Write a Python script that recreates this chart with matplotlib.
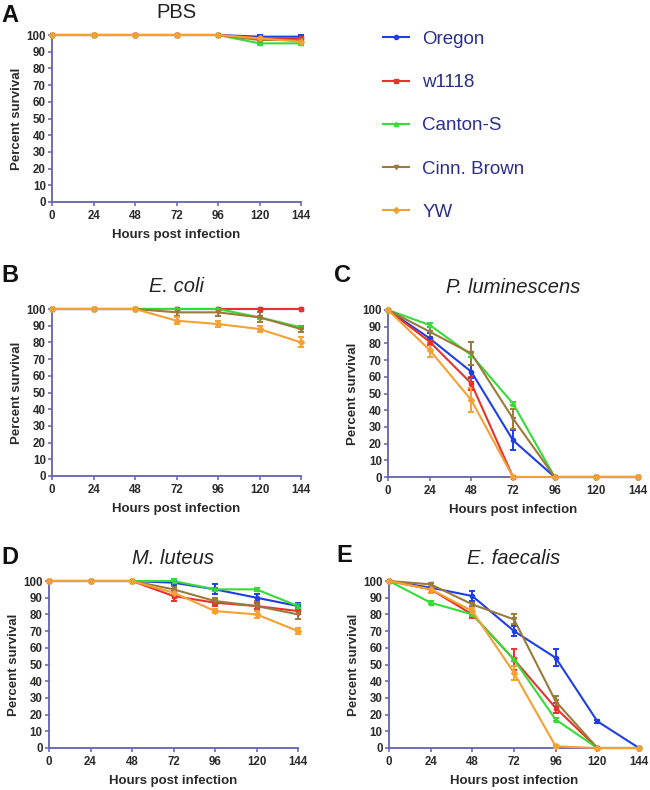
import matplotlib
matplotlib.use('Agg')
import matplotlib.pyplot as plt
from matplotlib.lines import Line2D

plt.rcParams['font.family'] = ['Liberation Sans', 'DejaVu Sans']

hours = [0, 24, 48, 72, 96, 120, 144]
strains = ['Oregon', 'w1118', 'Canton-S', 'Cinn. Brown', 'YW']
colors = ['#1f3fe6', '#e8322c', '#35dc35', '#9b7a3a', '#f5a032']
markers = ['o', 's', '^', 'v', 'D']

# survival (%) per strain, one list per time point
pbs = [
    [100, 100, 100, 100, 100, 99, 99],
    [100, 100, 100, 100, 100, 98, 98],
    [100, 100, 100, 100, 100, 95, 95],
    [100, 100, 100, 100, 100, 97, 97],
    [100, 100, 100, 100, 100, 98, 96],
]
pbs_err = [
    [0, 0, 0, 0, 0, 1, 1],
    [0, 0, 0, 0, 0, 1, 1],
    [0, 0, 0, 0, 0, 1, 1],
    [0, 0, 0, 0, 0, 2, 2],
    [0, 0, 0, 0, 0, 1, 1],
]
ecoli = [
    [100, 100, 100, 100, 100, 100, 100],
    [100, 100, 100, 100, 100, 100, 100],
    [100, 100, 100, 100, 100, 95, 89],
    [100, 100, 100, 98, 98, 95, 88],
    [100, 100, 100, 93, 91, 88, 80],
]
ecoli_err = [
    [0, 0, 0, 0, 0, 0, 0],
    [0, 0, 0, 0, 0, 0, 0],
    [0, 0, 0, 0, 0, 1, 1],
    [0, 0, 0, 2, 2, 3, 2],
    [0, 0, 0, 2, 2, 2, 3],
]
plum = [
    [100, 83, 63, 22, 0, 0, 0],
    [100, 81, 56, 0, 0, 0, 0],
    [100, 91, 73, 44, 0, 0, 0],
    [100, 87, 74, 35, 0, 0, 0],
    [100, 76, 46, 0, 0, 0, 0],
]
plum_err = [
    [0, 3, 4, 6, 0, 0, 0],
    [0, 2, 4, 0, 0, 0, 0],
    [0, 1, 1, 1, 0, 0, 0],
    [0, 3, 7, 6, 0, 0, 0],
    [0, 4, 7, 0, 0, 0, 0],
]
mlut = [
    [100, 100, 100, 99, 95, 90, 85],
    [100, 100, 100, 91, 87, 85, 82],
    [100, 100, 100, 100, 95, 95, 85],
    [100, 100, 100, 95, 88, 85, 80],
    [100, 100, 100, 93, 82, 80, 70],
]
mlut_err = [
    [0, 0, 0, 1, 3, 2, 2],
    [0, 0, 0, 3, 2, 2, 2],
    [0, 0, 0, 1, 1, 1, 1],
    [0, 0, 0, 2, 2, 3, 3],
    [0, 0, 0, 2, 1, 2, 2],
]
efae = [
    [100, 96, 91, 70, 54, 16, 0],
    [100, 95, 80, 53, 24, 0, 0],
    [100, 87, 80, 53, 17, 0, 0],
    [100, 98, 86, 77, 28, 0, 0],
    [100, 95, 82, 45, 1, 0, 0],
]
efae_err = [
    [0, 1, 3, 3, 5, 1, 0],
    [0, 2, 2, 6, 3, 0, 0],
    [0, 1, 1, 1, 1, 0, 0],
    [0, 1, 1, 3, 3, 0, 0],
    [0, 2, 2, 4, 1, 0, 0],
]

AXIS = '#6262b4'
TEXT = '#2a2a2a'
W, H = 650, 790


def px_axes(x0, y0, x1, y1):
    return fig.add_axes([x0 / W, 1 - y1 / H, (x1 - x0) / W, (y1 - y0) / H])


def panel(ax, data, err, title, letter, lx, ly, italic=True):
    for vals, e, c, m in zip(data, err, colors, markers):
        ax.errorbar(hours, vals, yerr=e, color=c, marker=m, markersize=3,
                    linewidth=1.5, elinewidth=1.4, capsize=2.5, capthick=1.4,
                    clip_on=False, zorder=3)
    ax.set_xlim(0, 144)
    ax.set_ylim(0, 100)
    ax.set_xticks(hours)
    ax.set_yticks(range(0, 101, 10))
    for side in ('top', 'right'):
        ax.spines[side].set_visible(False)
    for side in ('left', 'bottom'):
        ax.spines[side].set_color(AXIS)
        ax.spines[side].set_linewidth(1.3)
    ax.tick_params(colors=AXIS, length=3, width=1.1, labelcolor=TEXT,
                   labelsize=8.3, pad=1.5)
    ax.tick_params(axis='x', pad=3)
    for lab in ax.get_xticklabels() + ax.get_yticklabels():
        lab.set_fontweight('bold')
    ax.set_xlabel('Hours post infection', fontsize=9.5, fontweight='bold',
                  color=TEXT, labelpad=5)
    ax.set_ylabel('Percent survival', fontsize=9.5, fontweight='bold',
                  color=TEXT, labelpad=2)
    ax.set_title(title, fontsize=14.5, style='italic' if italic else 'normal',
                 color='#222222', pad=12)
    fig.text(lx / W, 1 - ly / H, letter, fontsize=17, fontweight='bold',
             ha='left', va='center', color='#111111')


fig = plt.figure(figsize=(6.5, 7.9), dpi=100)

axA = px_axes(52, 35, 301, 202)
panel(axA, pbs, pbs_err, 'PBS', 'A', 1, 15, italic=False)
axB = px_axes(52, 309, 301, 476)
panel(axB, ecoli, ecoli_err, 'E. coli', 'B', 1, 275)
axC = px_axes(388, 310, 638, 477)
panel(axC, plum, plum_err, 'P. luminescens', 'C', 334, 276)
axD = px_axes(49, 581, 298, 748)
panel(axD, mlut, mlut_err, 'M. luteus', 'D', 1, 558)
axE = px_axes(389, 581, 639, 748)
panel(axE, efae, efae_err, 'E. faecalis', 'E', 336, 556)

handles = [Line2D([], [], color=c, marker=m, markersize=3, linewidth=1.5)
           for c, m in zip(colors, markers)]
fig.legend(handles, strains, loc='upper left', bbox_to_anchor=(366 / W, 1 - 14 / H),
           frameon=False, fontsize=13.5, labelcolor='#2b2f8c', labelspacing=1.39,
           handlelength=1.4, handletextpad=0.7)

fig.savefig('out.png', dpi=100)
